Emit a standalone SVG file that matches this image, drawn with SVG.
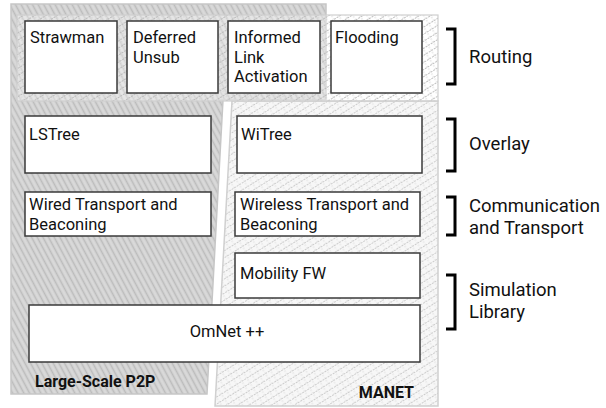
<svg xmlns="http://www.w3.org/2000/svg" width="606" height="408" viewBox="0 0 606 408">
<defs>
<pattern id="hatchGrey" width="5" height="5" patternUnits="userSpaceOnUse" patternTransform="rotate(-28)">
<rect width="5" height="5" fill="#d9d9d9"/>
<line x1="1.5" y1="0" x2="1.5" y2="5" stroke="#bcbcbc" stroke-width="1.6"/>
</pattern>
<pattern id="hatchCross" width="6" height="6" patternUnits="userSpaceOnUse" patternTransform="rotate(-32)">
<rect width="6" height="6" fill="#f7f7f7"/>
<line x1="0" y1="1.5" x2="6" y2="1.5" stroke="#c8c8c8" stroke-width="0.9" stroke-dasharray="2 1"/>
<line x1="3" y1="0" x2="3" y2="6" stroke="#d4d4d4" stroke-width="0.7" stroke-dasharray="1.5 1.5"/>
</pattern>
<pattern id="hatchCrossT" width="6" height="6" patternUnits="userSpaceOnUse" patternTransform="rotate(-32)">
<rect width="6" height="6" fill="#ffffff" fill-opacity="0.35"/>
<line x1="0" y1="1.5" x2="6" y2="1.5" stroke="#b8b8b8" stroke-width="0.9" stroke-dasharray="2 1"/>
<line x1="3" y1="0" x2="3" y2="6" stroke="#c4c4c4" stroke-width="0.7" stroke-dasharray="1.5 1.5"/>
</pattern>
</defs>
<style>
.box{fill:#ffffff;stroke:#3a3a3a;stroke-width:1.5}
.t{font-family:Roboto,"Liberation Sans",sans-serif;font-size:16.5px;fill:#111}
.lbl{font-family:Roboto,"Liberation Sans",sans-serif;font-size:18.5px;fill:#111}
.b{font-family:Roboto,"Liberation Sans",sans-serif;font-size:16px;font-weight:bold;fill:#111}
.br{fill:none;stroke:#000;stroke-width:3}
</style>
<rect width="606" height="408" fill="#ffffff"/>
<g id="region-p2p">
<polygon points="11,4 326,4 326,100 223,100 207,394 11,394" fill="url(#hatchGrey)" stroke="#c6c6c6" stroke-width="1.5"/>
</g>
<g id="region-manet">
<polygon points="232,101 438,101 438,406 215,406" fill="url(#hatchCross)" stroke="#d0d0d0" stroke-width="1.5"/>
<rect x="17" y="15" width="421" height="86" fill="url(#hatchCrossT)" stroke="#cfcfcf" stroke-width="1.2"/>
</g>
<g id="n-strawman"><rect class="box" x="25" y="21" width="92" height="72"/><text class="t" x="30" y="43">Strawman</text></g>
<g id="n-deferred"><rect class="box" x="127" y="21" width="91" height="72"/><text class="t" x="133" y="43">Deferred</text><text class="t" x="133" y="62.5">Unsub</text></g>
<g id="n-informed"><rect class="box" x="228" y="21" width="92" height="72"/><text class="t" x="234" y="43">Informed</text><text class="t" x="234" y="62.5">Link</text><text class="t" x="234" y="82">Activation</text></g>
<g id="n-flooding"><rect class="box" x="331" y="21" width="91" height="72"/><text class="t" x="335" y="43">Flooding</text></g>
<g id="n-lstree"><rect class="box" x="25" y="116" width="186" height="57"/><text class="t" x="29" y="140">LSTree</text></g>
<g id="n-witree"><rect class="box" x="237" y="116" width="185" height="57"/><text class="t" x="241" y="140">WiTree</text></g>
<g id="n-wired"><rect class="box" x="25" y="192" width="186" height="44"/><text class="t" x="29" y="210">Wired Transport and</text><text class="t" x="29" y="230">Beaconing</text></g>
<g id="n-wireless"><rect class="box" x="235" y="192" width="185" height="44"/><text class="t" x="240" y="210">Wireless Transport and</text><text class="t" x="240" y="230">Beaconing</text></g>
<g id="n-mobility"><rect class="box" x="235" y="253" width="185" height="45"/><text class="t" x="240" y="279">Mobility FW</text></g>
<g id="n-omnet"><rect class="box" x="29" y="305" width="391" height="57"/><text class="t" x="227" y="337" text-anchor="middle">OmNet ++</text></g>
<g id="region-labels">
<text class="b" x="35" y="387">Large-Scale P2P</text>
<text class="b" x="414" y="398" text-anchor="end">MANET</text>
</g>
<g id="connectors">
<polyline class="br" points="446,29 455,29 455,84 446,84"/>
<polyline class="br" points="446,119 455,119 455,171 446,171"/>
<polyline class="br" points="446,197 455,197 455,235 446,235"/>
<polyline class="br" points="446,275 455,275 455,329 446,329"/>
</g>
<g id="layer-labels">
<text class="lbl" x="469" y="63">Routing</text>
<text class="lbl" x="469" y="150">Overlay</text>
<text class="lbl" x="469" y="211.5">Communication</text>
<text class="lbl" x="469" y="233.5">and Transport</text>
<text class="lbl" x="469" y="296">Simulation</text>
<text class="lbl" x="469" y="318">Library</text>
</g>
</svg>
